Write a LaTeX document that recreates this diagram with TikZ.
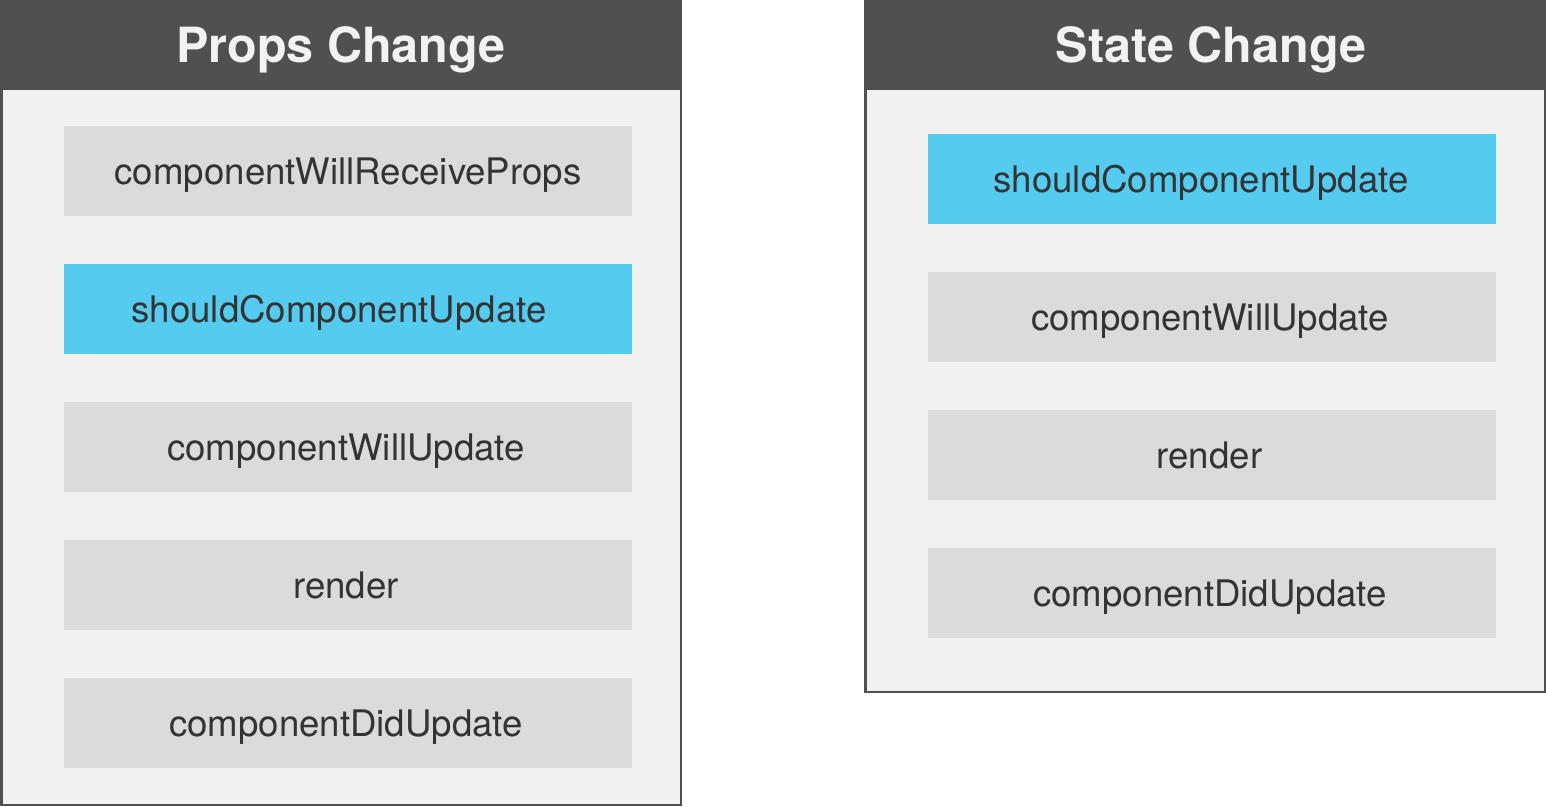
\documentclass[tikz,border=0pt]{standalone}
\usepackage{fontspec}
\setmainfont{TeX Gyre Heros}
\definecolor{headgray}{HTML}{505050}
\definecolor{bodygray}{HTML}{F1F1F1}
\definecolor{stepgray}{HTML}{DBDBDB}
\definecolor{hookblue}{HTML}{56CBF0}
\definecolor{inkgray}{HTML}{333333}
\definecolor{titlewhite}{HTML}{F2F2F2}
\tikzset{
  panelbody/.style={fill=bodygray, draw=headgray, line width=2.5pt},
  panelhead/.style={fill=headgray, text=titlewhite, inner sep=0pt,
    minimum height=90pt, text height=44.6pt, text depth=10pt,
    font=\bfseries\fontsize{48.5}{58}\selectfont},
  hook/.style={fill=stepgray, text=inkgray, inner sep=0pt,
    minimum width=568pt, minimum height=90pt,
    text height=34pt, text depth=7.6pt,
    font=\fontsize{36.6}{44}\selectfont},
  hooklit/.style={hook, fill=hookblue}
}
\begin{document}
\begin{tikzpicture}[x=1pt, y=-1pt]
  \useasboundingbox (0,0) rectangle (1546,806);
  % Props Change column
  \filldraw[panelbody] (1.25,1) rectangle (681,804.75);
  \node[panelhead, minimum width=682pt] (propsHead) at (341,45) {Props Change};
  \node[hook]    (pReceive) at (348,171) {componentWillReceiveProps};
  \node[hooklit] (pShould)  at (348,309) {\hspace*{-18pt}shouldComponentUpdate};
  \node[hook]    (pWill)    at (348,447) {\hspace*{-4pt}componentWillUpdate};
  \node[hook]    (pRender)  at (348,585) {\hspace*{-4pt}render};
  \node[hook]    (pDid)     at (348,723) {\hspace*{-4pt}componentDidUpdate};
  % State Change column
  \filldraw[panelbody] (865.25,1) rectangle (1544.75,691.75);
  \node[panelhead, minimum width=682pt] (stateHead) at (1205,45) {\hspace*{12pt}State Change};
  \node[hooklit] (sShould)  at (1212,179) {\hspace*{-22pt}shouldComponentUpdate};
  \node[hook]    (sWill)    at (1212,317) {\hspace*{-4pt}componentWillUpdate};
  \node[hook]    (sRender)  at (1212,455) {\hspace*{-5pt}render};
  \node[hook]    (sDid)     at (1212,593) {\hspace*{-4pt}componentDidUpdate};
\end{tikzpicture}
\end{document}
